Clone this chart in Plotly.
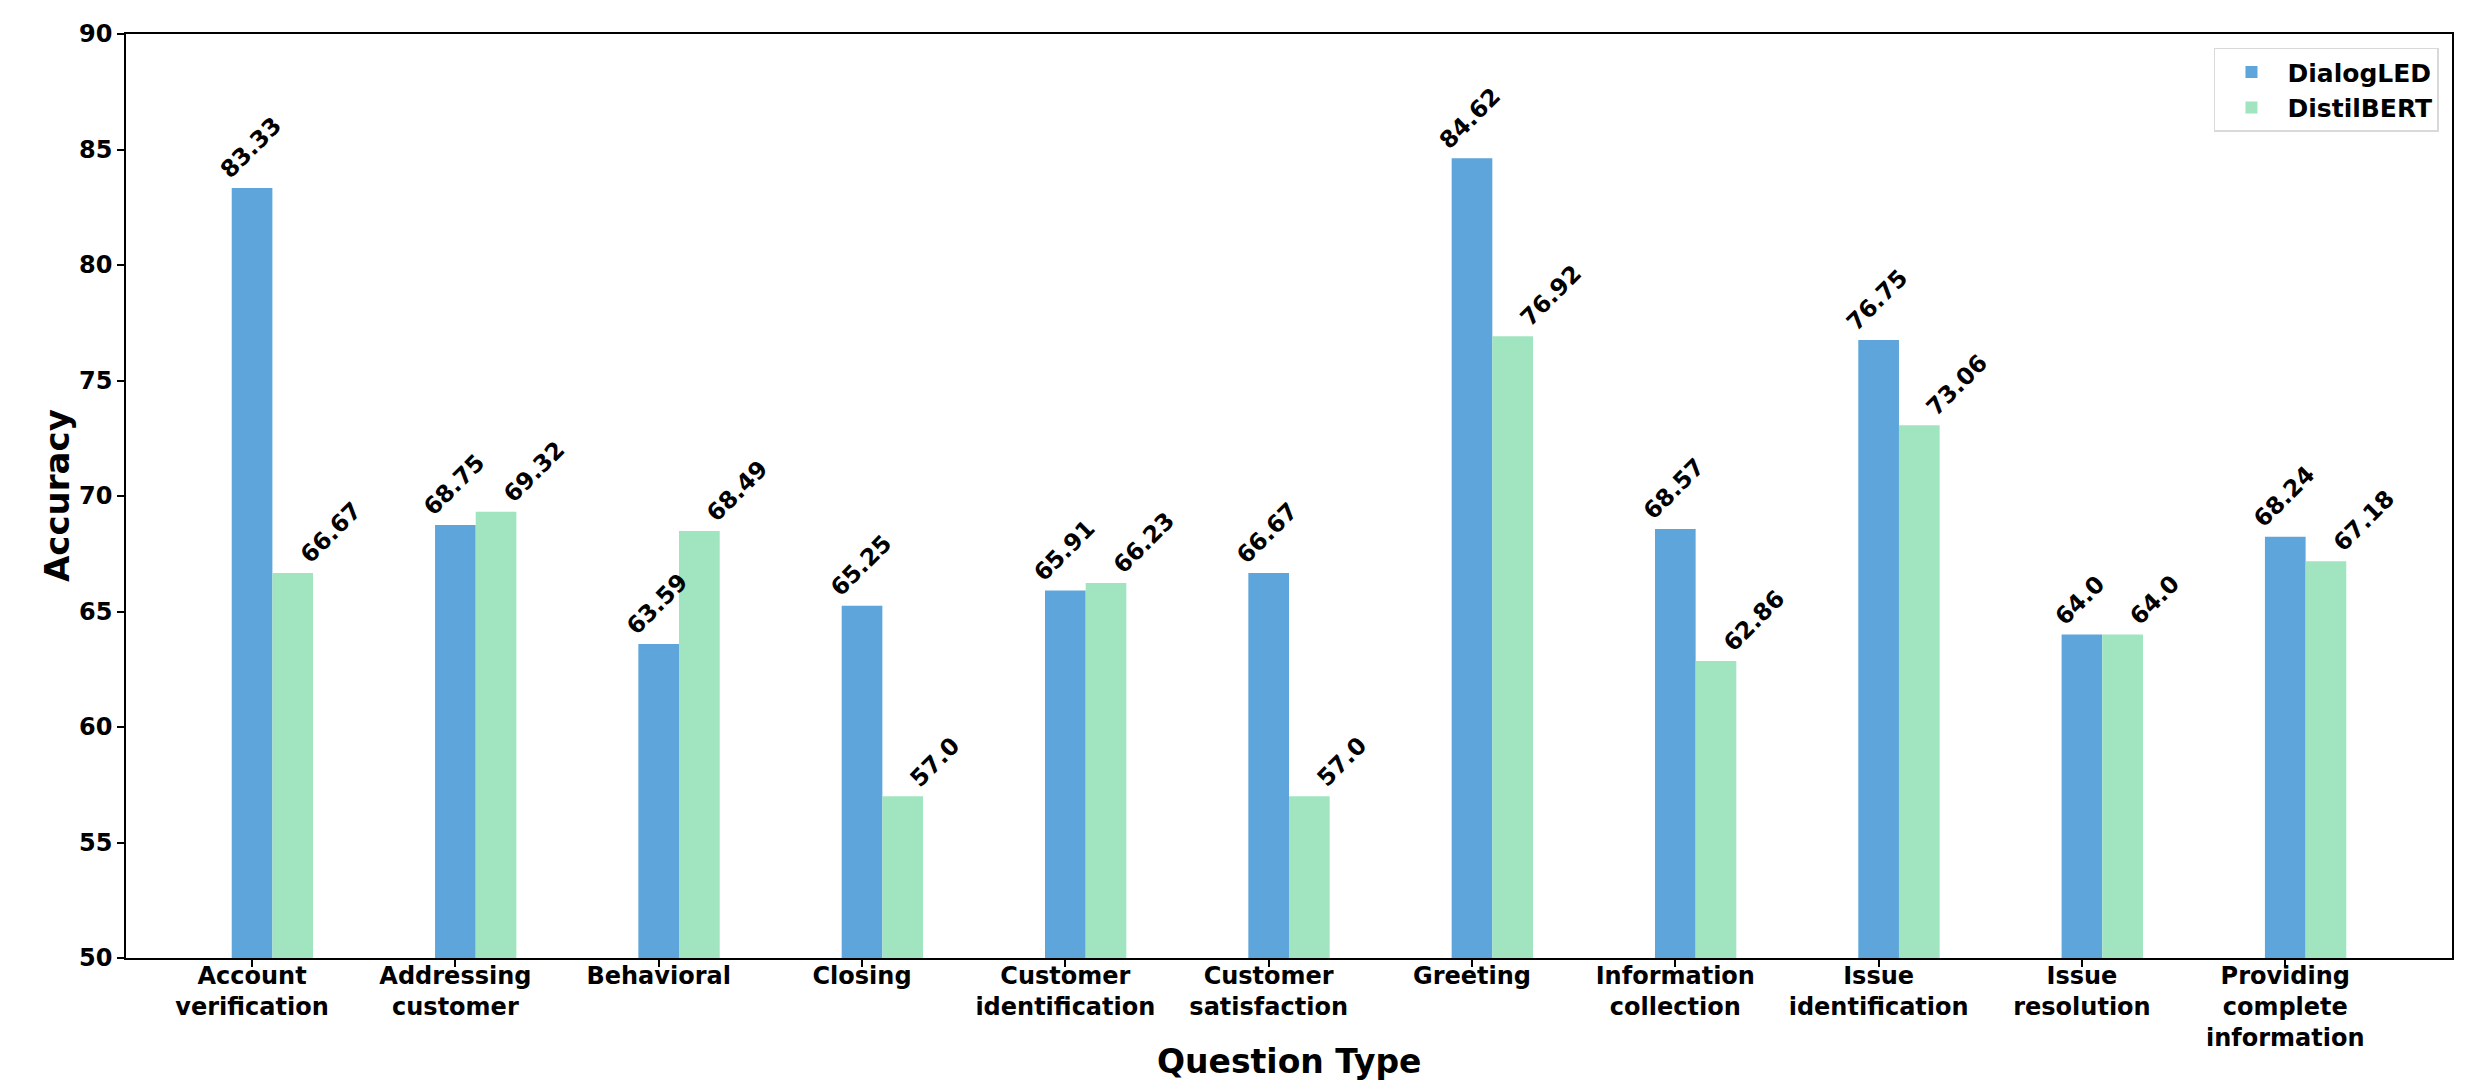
import plotly.graph_objects as go

categories = ["Account<br>verification", "Addressing<br>customer", "Behavioral", "Closing",
              "Customer<br>identification", "Customer<br>satisfaction", "Greeting",
              "Information<br>collection", "Issue<br>identification", "Issue<br>resolution",
              "Providing<br>complete<br>information"]
dialogled = [83.33, 68.75, 63.59, 65.25, 65.91, 66.67, 84.62, 68.57, 76.75, 64.0, 68.24]
distilbert = [66.67, 69.32, 68.49, 57.0, 66.23, 57.0, 76.92, 62.86, 73.06, 64.0, 67.18]
y_ticks = [50, 55, 60, 65, 70, 75, 80, 85, 90]

FONT = "DejaVu Sans"
BLUE = "#5DA5DA"
GREEN = "#A0E4C0"
W = 0.2
idx = list(range(len(categories)))

fig = go.Figure()
fig.add_trace(go.Bar(x=idx, y=[v - 50 for v in dialogled], base=50, width=W, offset=-W / 2,
                     marker=dict(color=BLUE, line=dict(width=0)), name="<b>DialogLED</b>",
                     legendgroup="a"))
fig.add_trace(go.Bar(x=idx, y=[v - 50 for v in distilbert], base=50, width=W, offset=W / 2,
                     marker=dict(color=GREEN, line=dict(width=0)), name="<b>DistilBERT</b>",
                     legendgroup="b"))

for i, (a, b) in enumerate(zip(dialogled, distilbert)):
    fig.add_annotation(x=i, y=a, text=f"<b>{a}</b>", textangle=-45, showarrow=False,
                       xanchor="center", yanchor="bottom", yshift=1, xshift=-1.5,
                       font=dict(family=FONT, size=23.5, color="black"))
    fig.add_annotation(x=i + W, y=b, text=f"<b>{b}</b>", textangle=-45, showarrow=False,
                       xanchor="left", yanchor="bottom", yshift=1, xshift=-1,
                       font=dict(family=FONT, size=23.5, color="black"))

# axis titles
fig.add_annotation(xref="paper", yref="paper", x=0.5, y=0, yshift=-103,
                   xanchor="center", yanchor="middle", showarrow=False,
                   text="<b>Question Type</b>", font=dict(family=FONT, size=33, color="black"))
fig.add_annotation(xref="paper", yref="paper", x=0, y=0.5, xshift=-69,
                   xanchor="center", yanchor="middle", showarrow=False, textangle=-90,
                   text="<b>Accuracy</b>", font=dict(family=FONT, size=34, color="black"))

fig.update_layout(
    width=2451, height=1073,
    margin=dict(l=118, r=7, t=26, b=123, autoexpand=False),
    plot_bgcolor="white", paper_bgcolor="white",
    barmode="overlay",
    font=dict(family=FONT, color="black"),
    showlegend=True,
    legend=dict(x=0.9944, y=0.985, xanchor="right", yanchor="top",
                bgcolor="rgba(255,255,255,0.8)", bordercolor="#d9d9d9", borderwidth=1.5,
                font=dict(family=FONT, size=25, color="black"), itemwidth=62,
                tracegroupgap=3, traceorder="normal"),
    xaxis=dict(range=[-0.62, 10.82], tickmode="array", tickvals=idx,
               ticktext=[f"<b>{c}</b>" for c in categories],
               tickfont=dict(family=FONT, size=24, color="black"),
               ticks="outside", ticklen=7, tickwidth=1.5, tickcolor="black",
               ticklabelstandoff=-12,
               showline=True, linecolor="black", linewidth=1.5, mirror=True,
               showgrid=False, zeroline=False, automargin=False),
    yaxis=dict(range=[50, 90], tickmode="array", tickvals=y_ticks,
               ticktext=[f"<b>{t}</b>" for t in y_ticks],
               tickfont=dict(family=FONT, size=24, color="black"),
               ticks="outside", ticklen=7, tickwidth=1.5, tickcolor="black",
               showline=True, linecolor="black", linewidth=1.5, mirror=True,
               showgrid=False, zeroline=False, automargin=False),
)

fig.write_html("out.html")
